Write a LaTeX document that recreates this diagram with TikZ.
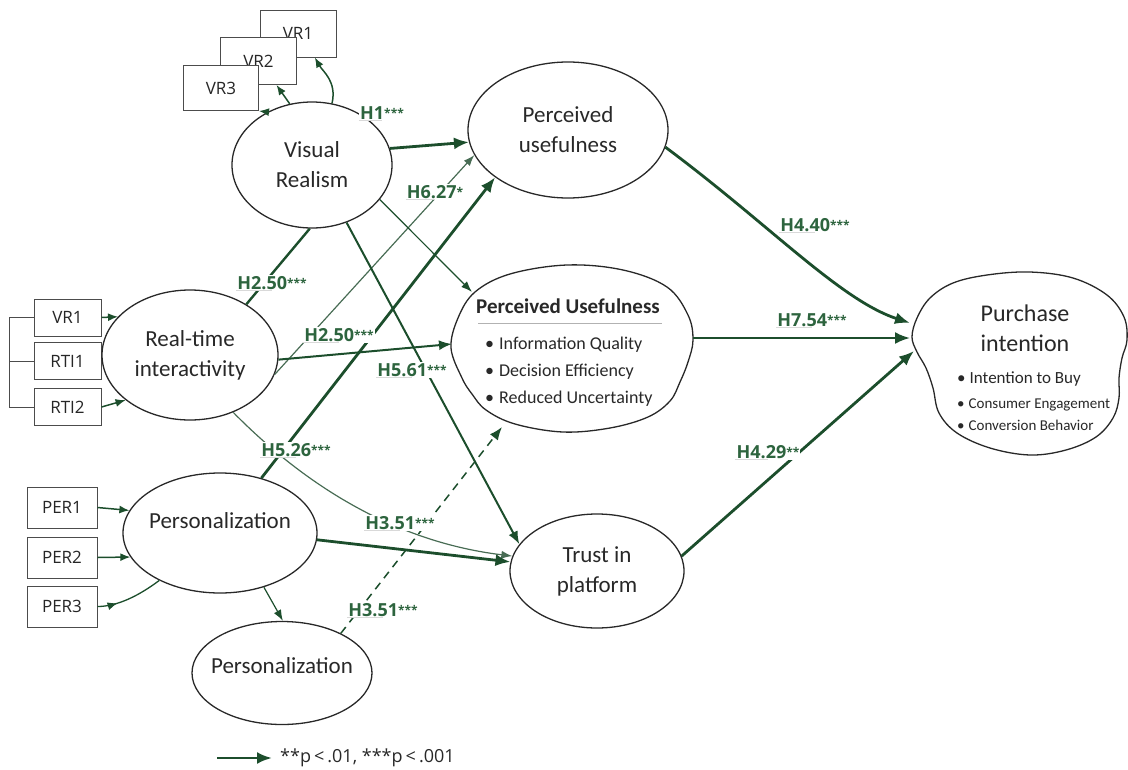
\documentclass[tikz,border=0pt]{standalone}
\usepackage{fontspec}
\setmainfont{Carlito}
\newfontfamily\boxfont{Open Sans}
\usetikzlibrary{shapes.geometric,arrows.meta,positioning,decorations.markings}
\definecolor{pathgreen}{RGB}{28,78,44}
\definecolor{thingreen}{RGB}{72,108,84}
\definecolor{lblgreen}{RGB}{45,100,62}
\definecolor{inkgray}{RGB}{40,40,40}
\newcommand\hlab[2]{#1\raisebox{2pt}{\fontsize{12}{12}\selectfont #2}}
\tikzset{
  latent/.style={ellipse, draw=inkgray, line width=1.3pt, inner sep=0pt, align=center,
    text=inkgray, font=\fontsize{23}{30}\selectfont},
  ind/.style={draw=black!70, fill=white, line width=1pt, inner sep=0pt, text=black!85,
    font=\boxfont\fontsize{17}{17}\selectfont},
  lbl/.style={text=lblgreen, fill=white, font=\boxfont\bfseries\fontsize{18}{18}\selectfont, inner sep=1pt,
    append after command={(\tikzlastnode.south west) edge[draw=black!15, line width=0.8pt] (\tikzlastnode.south)}},
  heavy/.style={draw=pathgreen, line width=2.8pt, -{Latex[length=15pt,width=12pt]}},
  medium/.style={draw=pathgreen, line width=2pt, -{Latex[length=13pt,width=10pt]}},
  light/.style={draw=thingreen, line width=1.2pt, -{Latex[length=11pt,width=8pt]}},
  boxarr/.style={draw=pathgreen, line width=1.5pt, -{Latex[length=10pt,width=8pt]}},
}
\begin{document}
\begin{tikzpicture}[x=1pt,y=-1pt]
\useasboundingbox (0,0) rectangle (1128,769);

% indicators
\node[ind, minimum width=76pt, minimum height=47pt] (vrA) at (298,33.5) {VR1};
\node[ind, minimum width=76pt, minimum height=47pt] (vrB) at (258.5,61) {VR2};
\node[ind, minimum width=75pt, minimum height=45pt] (vrC) at (221,88) {VR3};
\node[ind, minimum width=67pt, minimum height=37pt] (ind1) at (67.5,317.5) {VR1};
\node[ind, minimum width=67pt, minimum height=37pt] (ind2) at (67.5,361) {RTI1};
\node[ind, minimum width=67pt, minimum height=37pt] (ind3) at (67.5,407) {RTI2};
\node[ind, minimum width=70pt, minimum height=41pt] (per1) at (62,507.5) {PER1};
\node[ind, minimum width=70pt, minimum height=41pt] (per2) at (62,557.5) {PER2};
\node[ind, minimum width=70pt, minimum height=41pt] (per3) at (62,606.5) {PER3};
\draw[black!70, line width=1pt] (ind1.west) -- ++(-24,0) |- (ind3.west);
\draw[black!70, line width=1pt] (ind2.west) -- ++(-24,0);

% constructs
\node[latent, minimum width=160pt, minimum height=126pt] (vr) at (312,165) {Visual\\Realism};
\node[latent, minimum width=200pt, minimum height=136pt] (pu) at (568,130) {Perceived\\usefulness};
\node[latent, minimum width=176pt, minimum height=130pt] (rti) at (190,355) {Real-time\\interactivity};
\node[latent, minimum width=194pt, minimum height=120pt] (pers) at (220,533)
  {\raisebox{5pt}[0pt][0pt]{\makebox[0pt]{Personalization}}};
\node[latent, minimum width=180pt, minimum height=103pt] (pers2) at (282,673)
  {\raisebox{0pt}[0pt][0pt]{\makebox[0pt]{Personalization}}};
\node[latent, minimum width=174pt, minimum height=114pt] (trust) at (597,571) {Trust in\\platform};

% mediator blob
\draw[draw=inkgray, line width=1.3pt, fill=white] plot[smooth cycle, tension=0.6] coordinates {
  (451,348) (458,318) (475,292) (510,274) (567,265) (623,270) (667,287) (688,315)
  (693,340) (688,362) (680,382) (670,401) (648,417) (610,428) (563,432) (515,424)
  (486,410) (472,394) (462,378)};
\node[font=\bfseries\fontsize{21}{21}\selectfont, text=inkgray] (pumtitle) at (568,306) {Perceived Usefulness};
\draw[black!30, line width=1pt] (478,323) -- (662,323);
\foreach \txt [count=\i] in {Information Quality, Decision Efficiency, Reduced Uncertainty}
  \node[anchor=base west, inner sep=0pt, text=inkgray, font=\fontsize{18}{18}\selectfont]
    (pumitem\i) at (485,322.5+27*\i) {\textbullet\hspace{5pt}\txt};
\coordinate (pumW) at (452,344);
\coordinate (pumNW) at (472,292);
\coordinate (pumSW) at (502,427);
\coordinate (pumE) at (693,338);

% outcome blob
\draw[draw=inkgray, line width=1.3pt, fill=white] plot[smooth cycle, tension=0.6] coordinates {
  (912,337) (917,318) (930,298) (953,283) (987,275) (1030,272) (1073,278) (1107,295)
  (1124,317) (1127,340) (1122,358) (1119,378) (1119,398) (1113,418) (1096,437)
  (1066,450) (1030,455) (990,448) (957,433) (939,413) (933,388) (926,368) (917,352)};
\node[align=center, text=inkgray, font=\fontsize{24}{30}\selectfont] (pitxt) at (1025,328) {Purchase\\intention};
\node[anchor=base west, inner sep=0pt, text=inkgray, font=\fontsize{17}{17}\selectfont] (piitem1) at (957,383) {\textbullet\hspace{4pt}Intention to Buy};
\node[anchor=base west, inner sep=0pt, text=inkgray, font=\fontsize{15}{15}\selectfont] (piitem2) at (957,408) {\textbullet\hspace{4pt}Consumer Engagement};
\node[anchor=base west, inner sep=0pt, text=inkgray, font=\fontsize{15}{15}\selectfont] (piitem3) at (957,430) {\textbullet\hspace{4pt}Conversion Behavior};
\coordinate (piA) at (910,323);
\coordinate (piB) at (910,338);
\coordinate (piC) at (914,351);

% measurement arrows
\draw[boxarr] (vr.72) .. controls +(5,-22) and +(8,14) .. (vrA.-55);
\draw[boxarr] (vr.110) -- ([xshift=18pt]vrB.south);
\draw[boxarr] (vr.130) -- (vrC.south east);
\draw[boxarr] (ind1.east) -- (rti.152);
\draw[boxarr] (ind3.east) -- (rti.215);
\draw[boxarr] (per1.east) -- (pers.166);
\draw[boxarr] (per2.east) -- (pers.195);
\draw[pathgreen, line width=1.3pt, postaction={decorate},
  decoration={markings, mark=at position 0.3 with {\arrow{Latex[length=10pt,width=8pt]}}}]
  (per3.east) .. controls +(20,0) and +(-20,15) .. (pers.218);

% structural paths
\draw[heavy] (vr.12) -- (pu.187);
\draw[pathgreen, line width=2.4pt] (vr.268) -- (rti.42);
\draw[light] (rti.347) -- (pu.195);
\draw[light, draw=pathgreen] (vr.333) -- (pumNW);
\draw[medium] (vr.301) -- (trust.161);
\draw[heavy] (pers.53) -- (pu.213);
\draw[light] (rti.307) .. controls (290,470) and (380,540) .. (trust.170);
\draw[heavy] (pers.356) -- (trust.174);
\draw[light, draw=pathgreen] (pers.309) -- (pers2.89);
\draw[medium, line width=1.5pt, dash pattern=on 8pt off 6pt] (pers2.34) -- (pumSW);
\draw[medium] (rti.357) -- (pumW);
\draw[heavy] (pu.350) .. controls (770,225) and (840,300) .. (piA);
\draw[heavy, line width=2.4pt] (pumE) -- (piB);
\draw[heavy] (trust.10) -- (piC);

% path labels
\node[lbl] (h1) at (382,113) {\hlab{H1}{***}};
\node[lbl] (h627) at (435,192) {\hlab{H6.27}{*}};
\node[lbl] (h250a) at (272,283) {\hlab{H2.50}{***}};
\node[lbl] (h250b) at (339,335) {\hlab{H2.50}{***}};
\node[lbl] (h561) at (412,370) {\hlab{H5.61}{***}};
\node[lbl] (h526) at (296,450) {\hlab{H5.26}{***}};
\node[lbl] (h351a) at (400,523) {\hlab{H3.51}{***}};
\node[lbl] (h351b) at (383,610) {\hlab{H3.51}{***}};
\node[lbl] (h440) at (815,225) {\hlab{H4.40}{***}};
\node[lbl] (h754) at (812,320) {\hlab{H7.54}{***}};
\node[lbl] (h429) at (768,452) {\hlab{H4.29}{**}};

% legend
\coordinate (legS) at (217,758);
\coordinate (legE) at (272,758);
\draw[heavy] (legS) -- (legE);
\node[right=8pt of legE, inner sep=0pt, text=inkgray, font=\boxfont\fontsize{18}{18}\selectfont] (legtxt)
  {**p\,<\,.01, ***p\,<\,.001};
\end{tikzpicture}
\end{document}
